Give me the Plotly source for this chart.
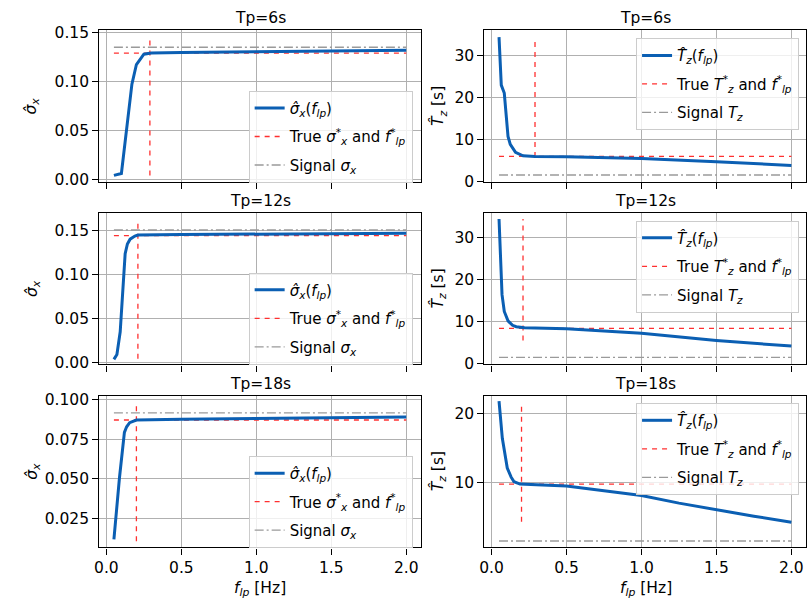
import plotly.graph_objects as go

# ---------------- data ----------------
periods = ["Tp=6s", "Tp=12s", "Tp=18s"]

# sigma_x estimates
f_sx6 = [0.05, 0.1, 0.17, 0.2, 0.25, 0.3, 0.5, 1.0, 1.5, 2.0]
sx6 = [0.004, 0.006, 0.097, 0.117, 0.1275, 0.1288, 0.1292, 0.1298, 0.1305, 0.1315]
f_sx12 = [0.05, 0.07, 0.092, 0.103, 0.114, 0.125, 0.14, 0.158, 0.19, 0.21, 0.5, 1.0, 1.5, 2.0]
sx12 = [0.0037, 0.0092, 0.035, 0.0608, 0.094, 0.1235, 0.1346, 0.140, 0.1435, 0.1446, 0.1452, 0.1458, 0.1463, 0.1468]
f_sx18 = [0.05, 0.087, 0.12, 0.135, 0.155, 0.2, 0.5, 1.0, 1.5, 2.0]
sx18 = [0.0116, 0.0507, 0.0795, 0.083, 0.0856, 0.0873, 0.0878, 0.0883, 0.0887, 0.0892]

# Tz estimates
f_tz6 = [0.05, 0.065, 0.085, 0.11, 0.125, 0.16, 0.21, 0.29, 0.5, 1.0, 1.5, 2.0]
tz6 = [34.3, 22.9, 21.0, 10.7, 8.8, 6.9, 6.1, 5.95, 5.85, 5.45, 4.7, 3.8]
f_tz12 = [0.05, 0.06, 0.07, 0.085, 0.11, 0.14, 0.165, 0.22, 0.5, 1.0, 1.5, 2.0]
tz12 = [34.5, 24.0, 16.5, 12.5, 10.25, 9.2, 8.87, 8.6, 8.4, 7.3, 5.6, 4.25]
f_tz18 = [0.05, 0.072, 0.105, 0.13, 0.15, 0.19, 0.3, 0.4, 0.5, 0.75, 1.0, 1.25, 1.5, 1.75, 2.0]
tz18 = [21.8, 16.4, 12.1, 10.8, 10.1, 9.76, 9.65, 9.6, 9.5, 8.8, 8.1, 7.0, 6.0, 5.1, 4.24]

# true values, optimal cutoff and signal values
f_star = [0.29, 0.21, 0.20]
sigma_true = [0.1287, 0.1441, 0.0873]
sigma_signal = [0.1346, 0.1504, 0.0918]
tz_true = [5.95, 8.47, 9.76]
tz_signal = [1.53, 1.55, 1.51]
# vertical marker extents
sig_vline = [(0.004, 0.143), (0.0044, 0.158), (0.0105, 0.097)]
tz_vline = [(5.8, 34.2), (5.6, 34.5), (4.3, 21.6)]
f_span = [0.05, 2.0]

# axes
x_ticks = [0.0, 0.5, 1.0, 1.5, 2.0]
x_ticktext = ["0.0", "0.5", "1.0", "1.5", "2.0"]
sig_ticks = [[0.0, 0.05, 0.10, 0.15], [0.0, 0.05, 0.10, 0.15], [0.025, 0.05, 0.075, 0.1]]
sig_ticktext = [["0.00", "0.05", "0.10", "0.15"], ["0.00", "0.05", "0.10", "0.15"],
                ["0.025", "0.050", "0.075", "0.100"]]
tz_ticks = [[0, 10, 20, 30], [0, 10, 20, 30], [10, 20]]
sig_ranges = [[-0.003, 0.1518], [-0.002, 0.1695], [0.0065, 0.1028]]
tz_ranges = [[-0.2, 35.9], [-0.1, 35.9], [0.57, 22.6]]
x_range = [-0.0475, 2.0975]

sig_curves = [(f_sx6, sx6), (f_sx12, sx12), (f_sx18, sx18)]
tz_curves = [(f_tz6, tz6), (f_tz12, tz12), (f_tz18, tz18)]

# ---------------- style ----------------
W, H = 807, 611
BLUE = "#0b5fb3"
RED = "#ff3030"
GRAY = "#9a9a9a"
FONT = "DejaVu Sans"
FS = 15.5

left_px = (95, 419)
right_px = (483, 808)
rows_px = [(24, 180), (211.7, 367), (399, 555)]

def xd(px):
    return [px[0] / W, min(px[1] / W, 1.0)]

def yd(r):
    return [1 - r[1] / H, 1 - r[0] / H]

fig = go.Figure()
layout = dict(
    width=W, height=H, margin=dict(l=0, r=0, t=0, b=0),
    paper_bgcolor="white", plot_bgcolor="white",
    font=dict(family=FONT, size=FS, color="black"),
    showlegend=True,
)
annotations = []

def axis_common():
    return dict(showline=True, mirror=True, linecolor="black", linewidth=1.3,
                ticks="outside", ticklen=6, tickwidth=1.3, tickcolor="black",
                showgrid=True, gridcolor="#b0b0b0", gridwidth=1.2, zeroline=False)

for r in range(3):
    for c in range(2):
        k = r * 2 + c + 1
        xa = "xaxis" if k == 1 else f"xaxis{k}"
        ya = "yaxis" if k == 1 else f"yaxis{k}"
        xref = "x" if k == 1 else f"x{k}"
        yref = "y" if k == 1 else f"y{k}"
        legname = "legend" if k == 1 else f"legend{k}"
        dom_x = xd(left_px if c == 0 else right_px)
        dom_y = yd(rows_px[r])
        xax = axis_common()
        xax.update(domain=dom_x, anchor=yref, range=x_range, tickvals=x_ticks,
                   ticktext=x_ticktext, showticklabels=(r == 2))
        yax = axis_common()
        if c == 0:
            yax.update(domain=dom_y, anchor=xref, range=sig_ranges[r],
                       tickvals=sig_ticks[r], ticktext=sig_ticktext[r])
        else:
            yax.update(domain=dom_y, anchor=xref, range=tz_ranges[r],
                       tickvals=tz_ticks[r], ticktext=[str(v) for v in tz_ticks[r]])
        layout[xa] = xax
        layout[ya] = yax

        if c == 0:
            fx, fy = sig_curves[r]
            truev, sigv, vl = sigma_true[r], sigma_signal[r], sig_vline[r]
            names = ["<i>σ̂<sub>x</sub></i>(<i>f<sub>lp</sub></i>)",
                     "True <i>σ</i><sup>*</sup><sub><i>x</i></sub> and <i>f</i><sup>*</sup><sub><i>lp</i></sub>",
                     "Signal <i>σ<sub>x</sub></i>"]
        else:
            fx, fy = tz_curves[r]
            truev, sigv, vl = tz_true[r], tz_signal[r], tz_vline[r]
            names = ["<i>T̂<sub>z</sub></i>(<i>f<sub>lp</sub></i>)",
                     "True <i>T</i><sup>*</sup><sub><i>z</i></sub> and <i>f</i><sup>*</sup><sub><i>lp</i></sub>",
                     "Signal <i>T<sub>z</sub></i>"]
        # true values (horizontal + vertical)
        fig.add_trace(go.Scatter(
            x=[f_span[0], f_span[1], None, f_star[r], f_star[r]],
            y=[truev, truev, None, vl[0], vl[1]],
            mode="lines", line=dict(color=RED, width=1.3, dash="5px,5px"),
            name=names[1], xaxis=xref, yaxis=yref, legend=legname,
            legendgroup=f"b{k}", legendrank=2))
        # signal
        fig.add_trace(go.Scatter(
            x=f_span, y=[sigv, sigv], mode="lines",
            line=dict(color=GRAY, width=1.3, dash="9px,3px,2px,3px"),
            name=names[2], xaxis=xref, yaxis=yref, legend=legname,
            legendgroup=f"c{k}", legendrank=3))
        # estimate
        fig.add_trace(go.Scatter(
            x=fx, y=fy, mode="lines", line=dict(color=BLUE, width=3),
            name=names[0], xaxis=xref, yaxis=yref, legend=legname,
            legendgroup=f"a{k}", legendrank=1))

        if c == 0:
            lx = 410.7 / W
            ly = [1 - 86 / H, 1 - 272.7 / H, 1 - 461 / H][r]
        else:
            lx = 800 / W
            ly = [1 - 32 / H, 1 - 219.3 / H, 1 - 406.7 / H][r]
        layout[legname] = dict(x=lx, y=ly, xanchor="right", yanchor="top",
                               bgcolor="rgba(255,255,255,0.8)", bordercolor="#cccccc",
                               borderwidth=1, font=dict(size=15, family=FONT),
                               tracegroupgap=6, traceorder="grouped")

        # title
        annotations.append(dict(text=periods[r], xref="paper", yref="paper",
                                x=(dom_x[0] + (left_px if c == 0 else right_px)[1] / W) / 2,
                                y=dom_y[1], xanchor="center", yanchor="bottom",
                                yshift=1, showarrow=False, font=dict(size=FS)))
        # y label
        annotations.append(dict(text="<i>σ̂<sub>x</sub></i>" if c == 0 else "<i>T̂<sub>z</sub></i> [s]",
                                xref="paper", yref="paper",
                                x=(27.5 if c == 0 else 437) / W,
                                y=(dom_y[0] + dom_y[1]) / 2, textangle=-90,
                                xanchor="center", yanchor="middle",
                                showarrow=False, font=dict(size=FS)))

for cx in [(left_px[0] + left_px[1]) / 2, (right_px[0] + right_px[1]) / 2]:
    annotations.append(dict(text="<i>f<sub>lp</sub></i> [Hz]", xref="paper", yref="paper",
                            x=cx / W, y=1 - 598 / H, xanchor="center", yanchor="middle",
                            showarrow=False, font=dict(size=FS)))

layout["annotations"] = annotations
fig.update_layout(**layout)
fig.write_html("out.html")
